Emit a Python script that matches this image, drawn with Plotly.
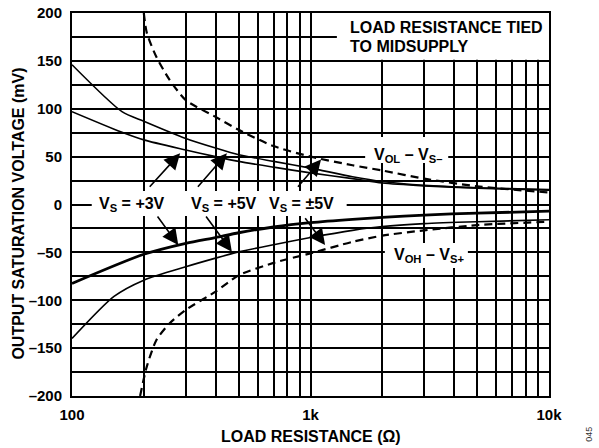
import numpy as np
import plotly.graph_objects as go

# Output saturation voltage vs. load resistance (load tied to midsupply)
# Upper family: V_OL - V_S-   Lower family: V_OH - V_S+
r_vol_5v = [100, 162, 200, 300, 400, 500, 700, 1000, 1500, 2000, 3000, 5000, 10000]
vol_5v = [146, 97, 87, 69, 59, 52, 45, 38, 29, 24, 20, 17.5, 15.5]

r_vol_3v = [100, 160, 200, 300, 400, 500, 700, 1000, 1500, 2000, 3000, 5000, 10000]
vol_3v = [97, 76, 67.5, 57, 50, 45, 39, 33, 27, 22.5, 19.5, 17, 15]

r_vol_pm5v = [200, 206, 226, 257, 300, 400, 500, 700, 1000, 1500, 2000, 3000, 5000, 10000]
vol_pm5v = [200, 179, 154, 130, 109, 91.5, 78, 61, 50, 41, 35.5, 27, 19, 12.5]

r_voh_3v = [100, 200, 300, 400, 500, 700, 1000, 1500, 2000, 3000, 5000, 10000]
voh_3v = [-82.5, -52, -40.5, -34.5, -29.5, -23.5, -19, -15.5, -13.5, -11, -9, -7]

r_voh_5v = [100, 150, 200, 300, 400, 500, 700, 1000, 1500, 2000, 3000, 5000, 10000]
voh_5v = [-140, -96, -79, -65, -56, -49.5, -42, -34.5, -27, -23, -20, -18, -16]

r_voh_pm5v = [193, 206, 226, 257, 300, 400, 500, 700, 1000, 1500, 2000, 3000, 5000, 10000]
voh_pm5v = [-200, -169, -141.5, -124, -110, -91, -74, -61, -51, -39, -32.5, -27, -21.5, -18]

# axis ticks
y_tickvals = list(range(-200, 201, 25))
y_ticktext = ["\u2013200", "", "\u2013150", "", "\u2013100", "", "\u201350", "", "0",
              "", "50", "", "100", "", "150", "", "200"]
x_tickvals = [m * 10 ** d for d in (2, 3) for m in range(1, 10)] + [10000]
x_ticktext = ["100"] + [""] * 8 + ["1k"] + [""] * 8 + ["10k"]

FONT = "Liberation Sans, Arial, sans-serif"
lg = np.log10

fig = go.Figure()

def curve(x, y, width, dash="solid"):
    fig.add_trace(go.Scatter(
        x=x, y=y, mode="lines",
        line=dict(color="black", width=width, dash=dash, shape="spline", smoothing=0.7),
        showlegend=False, hoverinfo="skip"))

curve(r_vol_5v, vol_5v, 1.6)
curve(r_vol_3v, vol_3v, 1.6)
curve(r_vol_pm5v, vol_pm5v, 2.2, "8px,5px")
curve(r_voh_3v, voh_3v, 2.8)
curve(r_voh_5v, voh_5v, 1.6)
curve(r_voh_pm5v, voh_pm5v, 2.2, "8px,5px")

# white patches behind the labels (hide the grid, stay under the curves)
def patch(x0, x1, y0, y1):
    fig.add_shape(type="rect", xref="x", yref="y", x0=x0, x1=x1, y0=y0, y1=y1,
                  fillcolor="white", line=dict(width=0), layer="between")

patch(1290, 10000, 151.2, 200)      # note box
patch(121, 1418, -12, 14)           # supply labels
patch(1695, 3780, 43.3, 70.5)       # V_OL label
patch(2050, 4570, -66.3, -40.2)     # V_OH label

bold = dict(family=FONT, size=16, color="black", weight="bold")

def label(text, r, mv, xanchor="center"):
    fig.add_annotation(x=lg(r), y=mv, xref="x", yref="y", text=text, showarrow=False,
                       font=bold, xanchor=xanchor, yanchor="middle")

label("LOAD RESISTANCE TIED", 1440, 185, "left")
label("TO MIDSUPPLY", 1440, 165.5, "left")
label("V<sub>S</sub> = +3V", 179, 0)
label("V<sub>S</sub> = +5V", 432, 0)
label("V<sub>S</sub> = \u00b15V", 915, 0)
label("V<sub>OL</sub> \u2013 V<sub>S\u2013</sub>", 2555, 51)
label("V<sub>OH</sub> \u2013 V<sub>S+</sub>", 3130, -53)

# pointer arrows: (tail R, tail mV, head R, head mV)
arrows = [
    (209, 16.9, 284, 53.5),
    (333, 16.9, 446, 53.5),
    (875, 16.9, 1107, 47),
    (226, -11, 279, -42.3),
    (361, -11, 468, -49.3),
    (940, -12.7, 1151, -42.3),
]
for tr, tm, hr, hm in arrows:
    fig.add_annotation(x=lg(hr), y=hm, ax=lg(tr), ay=tm, xref="x", yref="y",
                       axref="x", ayref="y", text="", showarrow=True,
                       arrowhead=2, arrowsize=2.0, arrowwidth=1.6,
                       arrowcolor="black", standoff=0, startstandoff=0)

# axis titles
fig.add_annotation(x=0.5, y=-0.107, xref="paper", yref="paper",
                   text="LOAD RESISTANCE (\u03a9)", showarrow=False, font=bold,
                   xanchor="center", yanchor="middle")
fig.add_annotation(x=-0.113, y=0.4765, xref="paper", yref="paper",
                   text="OUTPUT SATURATION VOLTAGE (mV)", showarrow=False, font=bold,
                   textangle=-90, xanchor="center", yanchor="middle")
fig.add_annotation(x=1.085, y=-0.1, xref="paper", yref="paper", text="045",
                   showarrow=False, textangle=-90,
                   font=dict(family=FONT, size=9, color="#333333"),
                   xanchor="center", yanchor="middle")

tickfont = dict(family=FONT, size=15, color="black", weight="bold")
fig.update_xaxes(type="log", range=[2, 4], tickvals=x_tickvals, ticktext=x_ticktext,
                 showgrid=True, gridcolor="black", gridwidth=1.6,
                 showline=True, linecolor="black", linewidth=2, mirror=True,
                 ticks="outside", ticklen=4, tickcolor="rgba(0,0,0,0)",
                 tickfont=tickfont, zeroline=False, automargin=False)
fig.update_yaxes(range=[-200, 200], tickvals=y_tickvals, ticktext=y_ticktext,
                 showgrid=True, gridcolor="black", gridwidth=2,
                 showline=True, linecolor="black", linewidth=2, mirror=True,
                 ticks="outside", ticklen=5, tickcolor="rgba(0,0,0,0)",
                 tickfont=tickfont, zeroline=False, automargin=False)

fig.update_layout(width=599, height=448,
                  margin=dict(l=72, r=50, t=13, b=52),
                  paper_bgcolor="white", plot_bgcolor="white")

fig.write_html("out.html")
